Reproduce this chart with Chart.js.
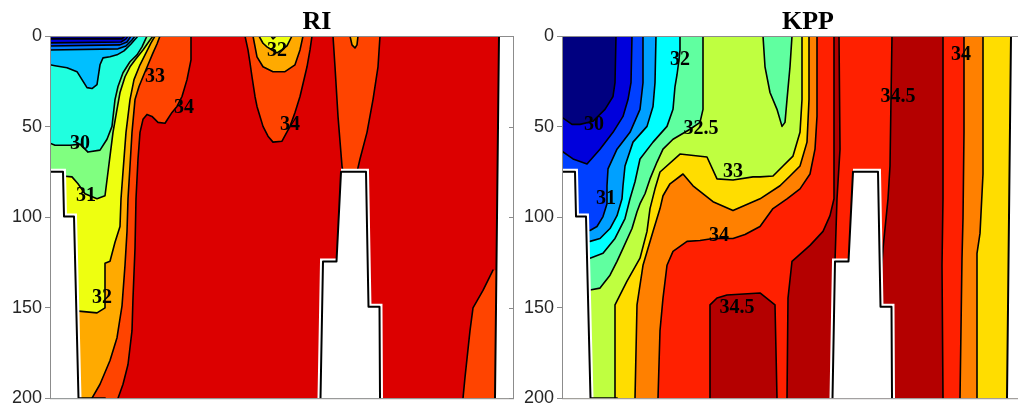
<!DOCTYPE html>
<html>
<head>
<meta charset="utf-8">
<script src="https://cdn.jsdelivr.net/npm/chart.js@4/dist/chart.umd.min.js"></script>
<style>
  html, body { margin: 0; padding: 0; background: #fff; overflow: hidden; }
  body { width: 1018px; height: 412px; position: relative; }
  canvas { position: absolute; top: 0; }
  #riChart { left: 0; }
  #kppChart { left: 513px; }
</style>
</head>
<body>
<canvas id="riChart" width="520" height="412"></canvas>
<canvas id="kppChart" width="520" height="412"></canvas>
<script>
// section distance runs 0..463 (unlabelled), depth 0..200 m
const X_MAX = 463;
const DEPTH_MAX = 200;
const depthTicks = [0, 50, 100, 150, 200];

// ---------- RI panel: contour lines as [distance, depth] ----------
const riA = [[0,1.6],[72,1.6],[75,0]];
const riB = [[0,3.8],[71,3.3],[76,1.6],[78,0]];
const riC = [[0,5.5],[70,4.9],[77,3.3],[81,0]];
const riD = [[0,7.7],[68,7.1],[76,5.5],[82,2.2],[85,0]];
const riE = [[0,15.9],[5,16.4],[17,17.5],[27,19.7],[32,24.1],[37,28.5],[42,29.0],[47,26.8],[50,15.9],[53,12.1],[60,11.5],[67,10.4],[74,8.2],[81,4.4],[88,0]];
const riF = [[0,59.2],[5,60.3],[20,60.3],[30,59.7],[38,64.1],[50,63.0],[57,57.0],[62,49.9],[65,35.1],[68,27.9],[73,20.3],[80,14.2],[87,10.4],[92,6.0],[97,0]];
const riG = [[12.5,77.3],[22,77.8],[28,81.6],[35,87.1],[47,89.9],[55,88.2],[58,75.1],[60,66.3],[63,53.2],[67,40.5],[70,31.2],[75,22.5],[80,17.0],[85,13.2],[93,7.7],[100,2.2],[103,0]];
const riH = [[26,151.8],[47,152.9],[55,150.1],[55,125.5],[60,124.4],[65,113.9],[70,105.2],[71,89.9],[73,75],[76,53.2],[80,35.1],[84,24.1],[90,15.9],[96,9.3],[101,3.8],[105,0]];
const riI = [[42,200],[50,192.3],[60,179.2],[67,166.6],[72,149],[75,126.6],[77,108],[78,89.9],[80,71.8],[82,53.2],[85,35.1],[89,27.9],[93,22.5],[98,15.9],[103,9.3],[107,4.4],[110,0]];
const riJ = [[68,200],[73,192.3],[78,181.4],[82,162.7],[83,144.7],[85,117.3],[86,89.9],[88,67.9],[90,53.2],[93,46.0],[97,43.3],[102,44.4],[108,47.7],[115,48.2],[122,42.2],[127,38.9],[132,33.4],[137,24.1],[141,13.2],[141,0]];
// fresher tongues inside the red water
const riT1 = [[195,0],[198,7.7],[200,14.8],[202,22.5],[205,33.4],[207,38.9],[213,49.9],[218,55.3],[223,58.6],[232,58.1],[240,49.9],[245,42.2],[250,33.4],[257,17.0],[260,7.7],[262,0]];
const riT1b = [[203,0],[207,11.5],[213,17.0],[223,19.7],[235,19.7],[245,15.9],[250,7.7],[253,0]];
const riT1c = [[209,0],[213,4],[217,6],[222,7.7],[227,9.3],[232,7.5],[237,5.5],[242,0]];
const riT1d = [[221,0],[223,1.6],[226,0]];
const riT2 = [[283,0],[285,17.0],[288,44.4],[292,71.8],[293,75.1],[307,75.1],[310,67.9],[317,53.2],[323,35.1],[328,17.0],[330,0]];
const riT2b = [[300,0],[302,4.9],[305,6.6],[307,4.9],[308,0]];
const riBR = [[413,200],[415,188.5],[420,162.7],[423,150.1],[433,140.5],[443,129.3]];

const riLabelText = ['33', '34', '30', '31', '32', '32', '34'];
const riLabelX    = [105, 134, 30, 36, 52, 227, 240];
const riLabelD    = [22.5, 39.5, 59.7, 88.2, 144.7, 8.2, 49.3];

// ---------- KPP panel ----------
const kppR30  = [[0,44.9],[10,48.8],[18,48.8],[31,47.1],[43,40.5],[51,33.4],[53,25.8],[54,0]];
const kppR305 = [[0,63.6],[11,67.9],[25,70.7],[38,62.5],[51,53.2],[61,44.4],[66,35.1],[69,25.8],[70,0]];
const kppR31  = [[28,107.4],[35,105.2],[41,99.7],[45,92.6],[45,82.7],[46,73.4],[55,62.5],[68,53.2],[78,40.5],[81,25.8],[81,0]];
const kppR315 = [[28,113.4],[38,111.8],[48,106.3],[55,99.2],[60,89.9],[61,82.7],[63,71.8],[71,58.6],[85,49.9],[91,38.9],[93,25.8],[94,0]];
const kppR32  = [[28,122.7],[41,120.0],[53,111.8],[63,100.8],[68,89.9],[73,80.5],[78,67.9],[91,58.6],[105,49.9],[111,40.5],[113,27.9],[115,21.4],[117,13.2],[118,7.7],[118,0]];
const kppR325 = [[28,140.3],[38,139.2],[48,132.1],[55,124.4],[61,117.3],[70,106.3],[75,97.0],[78,92.6],[83,87.1],[88,78.9],[95,69.6],[101,62.5],[111,57.0],[128,51.5],[138,47.7],[141,40.5],[141,0]];
const kppR33  = [[53,200],[53,148.5],[65,135.3],[78,122.7],[85,107.9],[88,95.3],[93,84.4],[98,75.1],[118,65.2],[145,66.8],[155,78.9],[171,79.5],[191,77.8],[198,77.8],[211,77.3],[221,71.8],[231,66.3],[238,53.2],[240,35.1],[240,0]];
const kppR335 = [[73,200],[75,148.5],[81,126.6],[91,107.9],[98,95.3],[101,88.2],[108,81.6],[121,76.2],[131,82.7],[151,91.5],[171,96.4],[198,89.9],[218,82.7],[228,77.3],[238,71.8],[245,58.6],[247,35.1],[247,0]];
const kppR34  = [[96,200],[98,162.7],[101,144.7],[105,126.6],[111,118.9],[125,113.4],[138,112.9],[151,111.8],[171,111.8],[183,109.6],[198,105.2],[211,95.3],[225,89.9],[238,84.4],[248,76.2],[253,62.5],[255,44.4],[255,0]];
const kppBubble = [[201,0],[203,17.0],[208,31.2],[215,40.5],[220,49.9],[223,47.7],[225,35.1],[228,17.0],[230,0]];
const kppDa  = [[148,200],[148,148.5],[155,144.7],[165,143.0],[198,141.9],[213,148.5],[215,200]];
const kppDbL = [[225,200],[226,144.7],[230,124.4],[248,115.6],[261,107.9],[268,99.2],[272,89.9],[272,0]];
const kppDbR = [[277,0],[278,62.5],[275,89.9],[273,124.4]];
const kppDcL = [[330,0],[329,35.1],[328,71.8],[326,89.9],[321,117.3],[319,133.7]];
const kppDcR = [[381,0],[381,89.9],[380,126.6],[381,200]];
const kppS34R  = [[402,0],[402,53.2],[401,100.8],[400,122.7],[398,200]];
const kppS335R = [[421,0],[421,76.2],[418,109.0],[415,120.0],[415,200]];

const kppLabelText = ['30', '31', '32', '32.5', '33', '34', '34.5', '34.5', '34'];
const kppLabelX    = [32, 44, 118, 139, 171, 157, 175, 336, 399];
const kppLabelD    = [48.8, 89.9, 13.2, 51.0, 75.1, 110.1, 150.1, 33.4, 10.4];

// ---------- bottom topography (same in both runs) ----------
const maskLeft  = [[0,75],[13,75],[14,99.7],[24,99.7],[28.5,200],[0,200]];
const maskMid   = [[291,75],[316,75],[318.5,149.5],[329.5,149.5],[330,200],[270.5,200],[273,124.5],[286.5,124.5]];
const maskRight = [[449,0],[463,0],[463,200],[445,200]];
const topoLeft  = [[0,75],[13,75],[14,99.7],[24,99.7],[28.5,200],[55,200]];
const topoMid   = [[270.5,200],[273,124.5],[286.5,124.5],[291,75],[316,75],[318.5,149.5],[329.5,149.5],[330,200]];
const topoRight = [[463,0],[449,0],[445,200]];

// colours (jet-like bands)
const RI_COL = ['#00008f', '#0000df', '#0040ff', '#0080ff', '#00bfff', '#20ffdf',
                '#80ff80', '#eeff10', '#ffaa00', '#ff4400', '#dc0000'];
const KPP_COL = { navy: '#000080', blue: '#0000dc', blue2: '#0040ff', sky: '#00a0ff',
                  cyan: '#00ffff', aqua: '#60ffa0', lime: '#bfff40', gold: '#ffdd00',
                  orange: '#ff8000', red: '#ff2000', dark: '#b40000' };

const FULL = [[0,0],[X_MAX,0],[X_MAX,DEPTH_MAX],[0,DEPTH_MAX]];

const pts = arr => arr.map(([x, y]) => ({ x, y }));

function area(points, color) {
  return { data: pts(points), showLine: true, fill: 'shape', backgroundColor: color,
           borderWidth: 0, pointRadius: 0, clip: 0 };
}
function contour(points, width = 1.6) {
  return { data: pts(points), showLine: true, fill: false, borderColor: '#000',
           borderWidth: width, pointRadius: 0, clip: 0,
           borderJoinStyle: 'round', borderCapStyle: 'round' };
}
function land(points) {
  return { data: pts(points), showLine: true, fill: 'shape', backgroundColor: '#fff',
           borderColor: '#fff', borderWidth: 6, pointRadius: 0, clip: 0 };
}
// right of a line (saltier side) / left of a line (fresher side)
const toRight = line => [...line, [X_MAX,0], [X_MAX,DEPTH_MAX], [0,DEPTH_MAX]];
const toRightB = line => [...line, [X_MAX,0], [X_MAX,DEPTH_MAX]];
const toLeft = line => [...line, [0,0], [0,line[0][1]]];

// paint order: first entry is at the bottom
function stack(layers) {
  const n = layers.length;
  return layers.map((d, i) => ({ ...d, order: n - i }));
}

const riLayers = stack([
  area(FULL, RI_COL[0]),
  area(toRight(riA), RI_COL[1]),
  area(toRight(riB), RI_COL[2]),
  area(toRight(riC), RI_COL[3]),
  area(toRight(riD), RI_COL[4]),
  area(toRight(riE), RI_COL[5]),
  area(toRight(riF), RI_COL[6]),
  area(toRight(riG), RI_COL[7]),
  area(toRight(riH), RI_COL[8]),
  area(toRightB(riI), RI_COL[9]),
  area(toRightB(riJ), RI_COL[10]),
  area(riT1, RI_COL[9]),
  area(riT1b, RI_COL[8]),
  area(riT1c, RI_COL[7]),
  area(riT1d, RI_COL[6]),
  area(riT2, RI_COL[9]),
  area(riT2b, RI_COL[8]),
  area([...riBR, [X_MAX,129.3], [X_MAX,DEPTH_MAX]], RI_COL[9]),
  ...[riA, riB, riC, riD, riE, riF, riG, riH, riI, riJ,
      riT1, riT1b, riT1c, riT1d, riT2, riT2b, riBR].map(l => contour(l)),
  land(maskLeft), land(maskMid), land(maskRight),
  contour(topoLeft, 2), contour(topoMid, 2), contour(topoRight, 2),
]);

const C = KPP_COL;
const kppLayers = stack([
  area(FULL, C.red),
  area(kppDa, C.dark),
  area([...kppDbL, ...kppDbR, [273,DEPTH_MAX]], C.dark),
  area([...kppDcL, [318,DEPTH_MAX], ...[...kppDcR].reverse()], C.dark),
  area(toLeft(kppR34), C.orange),
  area([...kppS34R, [X_MAX,DEPTH_MAX], [X_MAX,0]], C.orange),
  area(toLeft(kppR335), C.gold),
  area([...kppS335R, [X_MAX,DEPTH_MAX], [X_MAX,0]], C.gold),
  area(toLeft(kppR33), C.lime),
  area(kppBubble, C.aqua),
  area(toLeft(kppR325), C.aqua),
  area(toLeft(kppR32), C.cyan),
  area(toLeft(kppR315), C.sky),
  area(toLeft(kppR31), C.blue2),
  area(toLeft(kppR305), C.blue),
  area(toLeft(kppR30), C.navy),
  ...[kppR30, kppR305, kppR31, kppR315, kppR32, kppR325, kppR33, kppR335, kppR34,
      kppBubble, kppDa, kppDbL, kppDbR, kppDcL, kppDcR, kppS34R, kppS335R].map(l => contour(l)),
  land(maskLeft), land(maskMid), land(maskRight),
  contour(topoLeft, 2), contour(topoMid, 2), contour(topoRight, 2),
]);

const contourLabels = {
  id: 'contourLabels',
  afterDatasetsDraw(chart, args, opts) {
    const { ctx, scales: { x, y } } = chart;
    ctx.save();
    ctx.font = 'bold 20px "Liberation Serif", "Times New Roman", serif';
    ctx.fillStyle = '#000';
    ctx.textAlign = 'center';
    ctx.textBaseline = 'middle';
    opts.text.forEach((t, i) => {
      ctx.fillText(t, x.getPixelForValue(opts.xs[i]), y.getPixelForValue(opts.ds[i]));
    });
    ctx.restore();
  }
};

const axesBox = {
  id: 'axesBox',
  afterDraw(chart, args, opts) {
    const { ctx, chartArea: a, scales: { y } } = chart;
    ctx.save();
    ctx.strokeStyle = '#8c8c8c';
    ctx.lineWidth = 1;
    ctx.strokeRect(a.left + 0.5, a.top + 0.5, a.right - a.left, a.bottom - a.top);
    ctx.beginPath();
    depthTicks.forEach(v => {
      const py = Math.round(y.getPixelForValue(v)) + 0.5;
      ctx.moveTo(a.right - 4, py);
      ctx.lineTo(a.right, py);
    });
    ctx.stroke();
    ctx.font = 'bold 26px "Liberation Serif", "Times New Roman", serif';
    ctx.fillStyle = '#000';
    ctx.textAlign = 'center';
    ctx.textBaseline = 'alphabetic';
    ctx.fillText(opts.text, opts.x, opts.y);
    ctx.restore();
  }
};

function makeChart(id, datasets, labels, title, axisWidth, padRight) {
  return new Chart(document.getElementById(id), {
    type: 'scatter',
    data: { datasets },
    options: {
      responsive: false,
      animation: false,
      devicePixelRatio: 1,
      events: [],
      layout: { padding: { left: 0, right: padRight, top: 36, bottom: 11 } },
      elements: { point: { radius: 0 } },
      plugins: {
        legend: { display: false },
        tooltip: { enabled: false },
        contourLabels: labels,
        axesBox: title,
      },
      scales: {
        x: { type: 'linear', min: 0, max: X_MAX, display: false },
        y: {
          type: 'linear', reverse: true, min: 0, max: DEPTH_MAX,
          afterFit: s => { s.width = axisWidth; },
          afterBuildTicks: s => { s.ticks = depthTicks.map(v => ({ value: v })); },
          ticks: {
            color: '#262626', padding: 3,
            font: { family: '"Liberation Sans", Arial, sans-serif', size: 18 },
          },
          grid: { display: true, drawOnChartArea: false, drawTicks: true, tickLength: 5, color: '#8c8c8c' },
          border: { display: false },
        },
      },
    },
    plugins: [contourLabels, axesBox],
  });
}

makeChart('riChart', riLayers,
  { text: riLabelText, xs: riLabelX, ds: riLabelD },
  { text: 'RI', x: 317, y: 29 }, 50, 7);

makeChart('kppChart', kppLayers,
  { text: kppLabelText, xs: kppLabelX, ds: kppLabelD },
  { text: 'KPP', x: 295, y: 29 }, 49, 8);
</script>
</body>
</html>
